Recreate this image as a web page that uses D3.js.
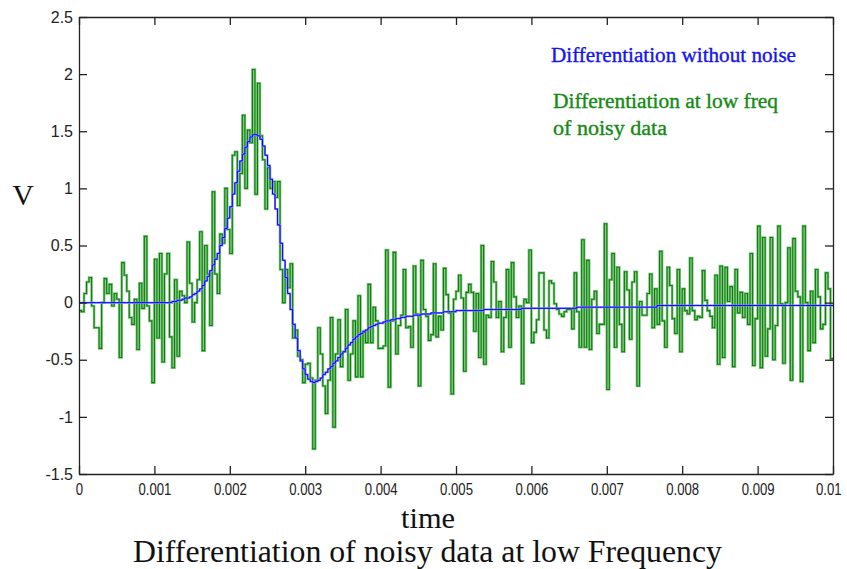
<!DOCTYPE html>
<html><head><meta charset="utf-8">
<script src="https://cdn.jsdelivr.net/npm/d3@7/dist/d3.min.js"></script>
<style>body{margin:0;background:#fff}svg{display:block}
.tick text{font-family:'Liberation Sans',Arial,sans-serif}
.xax .tick text{font-size:16px}
.yax .tick text{font-size:16px}
</style>
</head><body>
<svg id="chart" width="847" height="569"></svg>
<script>
// ---------- data ----------
const timeStart = 0;
const timeEnd = 0.01;
const xTickValues = [0,0.001,0.002,0.003,0.004,0.005,0.006,0.007,0.008,0.009,0.01];
const xTickLabels = ["0","0.001","0.002","0.003","0.004","0.005","0.006","0.007","0.008","0.009","0.01"];
const yTickValues = [-1.5,-1,-0.5,0,0.5,1,1.5,2,2.5];
const yTickLabels = ["-1.5","-1","-0.5","0","0.5","1","1.5","2","2.5"];

// differentiation at low freq of noisy data (one value per sample step)
const noisyDeriv = [
 -0.07,-0.08,0.08,0.18,0.22,-0.03,-0.22,-0.22,-0.4,0.0,
 0.21,0.08,0.16,-0.03,0.08,0.03,-0.48,0.35,0.24,0.1,
 -0.13,-0.19,0.03,-0.41,0.17,-0.05,0.58,-0.03,-0.16,-0.7,
 0.38,-0.31,0.43,-0.52,0.25,0.43,-0.3,-0.57,0.2,-0.47,
 0.1,0.06,0.0,0.53,0.17,-0.17,0.0,0.2,
 0.62,-0.42,0.5,0.25,-0.2,0.97,0.25,0.08,0.6,0.52,
 1.0,0.64,0.43,1.29,1.32,0.85,1.13,1.64,1.0,1.51,
 1.4,2.04,0.95,1.92,1.46,1.25,0.82,1.18,1.0,1.06,
 0.92,1.06,0.29,0.0,0.29,0.13,0.34,-0.31,-0.24,-0.47,
 -0.5,-0.7,-0.54,-0.53,-0.66,-1.28,-0.68,-0.22,-0.45,-0.73,
 -0.97,-0.68,
 -0.13,-1.09,-0.45,-0.15,-0.56,-0.43,-0.06,-0.68,-0.45,-0.16,
 -0.65,0.06,-0.65,-0.26,-0.35,0.16,-0.35,-0.04,-0.16,-0.4,
 -0.4,-0.38,0.46,-0.74,-0.16,0.44,-0.45,-0.2,-0.11,0.29,
 -0.22,-0.21,-0.39,0.32,-0.1,-0.73,0.37,-0.06,-0.12,-0.33,
 -0.28,0.34,-0.3,-0.12,-0.24,0.3,0.07,-0.09,-0.8,
 0.03,0.1,0.24,0.04,-0.6,0.09,0.16,0.09,-0.25,0.08,
 -0.48,0.5,-0.54,-0.11,-0.13,0.36,0.18,-0.13,0.01,-0.43,
 -0.13,0.29,-0.39,0.35,0.05,-0.13,-0.03,-0.71,0.03,0.0,
 0.46,-0.35,-0.26,-0.15,0.26,0.26,-0.24,-0.31,0.19,0.17,
 -0.01,-0.06,-0.1,-0.12,-0.08,-0.06,-0.06,-0.23,0.26,-0.08,
 -0.39,
 0.55,-0.39,0.37,-0.41,0.03,0.1,-0.27,-0.19,-0.19,0.69,
 -0.76,0.2,0.43,-0.39,0.31,-0.19,-0.43,0.27,0.11,-0.32,
 0.18,0.27,-0.73,0.01,-0.11,-0.11,0.08,0.25,-0.22,0.12,
 -0.19,0.45,-0.16,-0.39,0.31,0.15,-0.14,-0.27,0.29,-0.43,
 0.12,-0.07,-0.1,0.39,-0.07,-0.15,-0.12,-0.13,0.28,
 0.02,-0.07,-0.12,-0.22,0.24,-0.54,0.32,-0.48,0.31,0.01,
 0.14,-0.56,0.29,-0.09,0.09,-0.13,0.08,-0.19,0.43,-0.55,
 -0.14,0.67,-0.57,0.57,-0.47,-0.23,0.57,-0.5,-0.2,0.67,
 -0.01,-0.53,0.0,0.48,-0.68,0.56,0.1,0.05,-0.69,0.67,
 0.0,-0.42,0.1,-0.35,0.29,0.05,-0.23,-0.19,0.26,0.12,
 -0.49
];

// differentiation without noise (same sample steps)
const cleanDeriv = [
 0,0,0,0,0,0,0,0,0,0,
 0,0,0,0,0,0,0,0,0,0,
 0,0,0,0,0,0,0,0,0,0,
 0,0,0,0,0,0,0,
 0.01,0.01,0.02,0.02,0.03,0.04,0.04,0.05,0.07,0.08,
 0.1,0.12,0.15,0.19,0.23,0.28,0.33,0.38,0.43,0.5,
 0.57,0.65,0.74,0.84,0.95,1.05,1.15,1.24,1.3,1.36,
 1.41,1.45,1.47,1.47,1.46,1.43,1.37,1.29,1.2,1.08,
 0.95,0.82,0.68,0.52,0.37,0.22,0.08,-0.06,-0.19,-0.31,
 -0.42,-0.51,-0.58,-0.63,-0.67,-0.69,-0.7,-0.69,-0.68,-0.66,
 -0.63,-0.61,-0.58,-0.56,-0.53,-0.51,-0.48,-0.45,-0.43,-0.4,
 -0.37,-0.35,-0.32,-0.3,-0.28,-0.27,-0.25,-0.24,-0.22,-0.21,
 -0.2,-0.19,-0.18,-0.18,-0.17,-0.16,-0.16,-0.15,-0.15,-0.14,
 -0.14,-0.13,-0.13,-0.12,-0.12,-0.12,-0.11,-0.11,-0.11,-0.1,
 -0.1,-0.1,-0.1,-0.09,-0.09,-0.09,-0.09,-0.09,-0.08,-0.08,
 -0.08,-0.08,-0.08,
 -0.07,-0.07,-0.07,-0.07,-0.07,-0.07,-0.07,-0.07,-0.07,-0.07,-0.07,
 -0.06,-0.06,-0.06,-0.06,-0.06,-0.06,-0.06,-0.06,-0.06,-0.06,-0.06,-0.06,-0.06,-0.06,-0.06,
 -0.05,-0.05,-0.05,-0.05,-0.05,-0.05,-0.05,-0.05,-0.05,-0.05,-0.05,
 -0.05,-0.05,-0.05,-0.05,-0.05,-0.05,-0.05,-0.05,-0.05,-0.05,-0.05,
 -0.04,-0.04,-0.04,-0.04,-0.04,-0.04,-0.04,-0.04,-0.04,-0.04,
 -0.04,-0.04,-0.04,-0.04,-0.04,-0.04,-0.04,-0.04,-0.04,-0.04,
 -0.04,-0.04,-0.04,-0.04,-0.04,-0.04,-0.04,-0.04,-0.04,-0.04,-0.04,-0.04,
 -0.025,-0.025,-0.025,-0.025,-0.025,-0.025,-0.025,-0.025,-0.025,-0.025,
 -0.025,-0.025,-0.025,-0.025,-0.025,-0.025,-0.025,-0.025,-0.025,-0.025,
 -0.025,-0.025,-0.025,-0.025,-0.025,-0.025,-0.025,-0.025,-0.025,-0.025,
 -0.025,-0.025,-0.025,-0.025,-0.025,-0.025,-0.025,-0.025,-0.025,-0.025,
 -0.025,-0.025,-0.025,-0.025,-0.025,-0.025,-0.025,-0.025,-0.025,-0.025,
 -0.025,-0.025,-0.025,-0.025,-0.025,-0.025,-0.025,-0.025,-0.025,-0.025,
 -0.025,-0.025,-0.025,-0.025,-0.025,-0.025,-0.025,-0.025,-0.025,-0.025
];

const legendLabels = ["Differentiation without noise", "Differentiation at low freq", "of noisy data"];
const xTitle = "time";
const yTitle = "V";
const chartTitle = "Differentiation of noisy data at low Frequency";

// ---------- drawing ----------
const svg = d3.select("#chart");
const plotLeft = 79, plotRight = 833, plotTop = 17, plotBottom = 474;

const x = d3.scaleLinear().domain([timeStart, timeEnd]).range([plotLeft, plotRight]);
const y = d3.scaleLinear().domain([-1.5, 2.5]).range([plotBottom, plotTop]);

function stepPoints(vals) {
  const dt = (timeEnd - timeStart) / vals.length;
  const pts = vals.map((v, i) => [timeStart + i * dt, v]);
  pts.push([timeEnd, vals[vals.length - 1]]);
  return pts;
}
const line = d3.line().x(d => x(d[0])).y(d => y(d[1])).curve(d3.curveStepAfter);

const plot = svg.append("g");
const gPts = stepPoints(noisyDeriv);
const bPts = stepPoints(cleanDeriv);

plot.append("path").attr("d", line(gPts)).attr("fill", "none")
  .attr("stroke", "#86c886").attr("stroke-width", 2.6);
plot.append("path").attr("d", line(gPts)).attr("fill", "none")
  .attr("stroke", "#0a7f0a").attr("stroke-width", 1.1);
plot.append("path").attr("d", line(bPts)).attr("fill", "none")
  .attr("stroke", "#8a8aff").attr("stroke-width", 2.0);
plot.append("path").attr("d", line(bPts)).attr("fill", "none")
  .attr("stroke", "#0000ff").attr("stroke-width", 1.0);

// axes (box with inward ticks)
const axisColor = "#222";
function styleAxis(g) {
  g.selectAll("path,line").attr("stroke", axisColor).attr("stroke-width", 1.3);
  g.selectAll("text").attr("fill", "#222");
}
const xAxisG = svg.append("g").attr("class", "xax").attr("transform", `translate(0,${plotBottom})`)
  .call(d3.axisBottom(x).tickValues(xTickValues).tickFormat((d, i) => xTickLabels[i]).tickSize(-8).tickSizeOuter(0).tickPadding(10))
  .call(styleAxis);
// narrow the bottom tick labels as in the reference (the last one kept inside the picture)
const nX = xTickValues.length;
xAxisG.selectAll("text").each(function (d, i) {
  const w = this.getComputedTextLength();
  const t = d3.select(this).attr("textLength", w * 0.82).attr("lengthAdjust", "spacingAndGlyphs");
  if (i === nX - 1) t.attr("text-anchor", "end").attr("x", 841 - plotRight);
});
svg.append("g").attr("transform", `translate(0,${plotTop})`)
  .call(d3.axisTop(x).tickValues(xTickValues).tickFormat("").tickSize(-8).tickSizeOuter(0))
  .call(styleAxis);
svg.append("g").attr("class", "yax").attr("transform", `translate(${plotLeft},0)`)
  .call(d3.axisLeft(y).tickValues(yTickValues).tickFormat((d, i) => yTickLabels[i]).tickSize(-8).tickSizeOuter(0).tickPadding(6))
  .call(styleAxis);
svg.append("g").attr("transform", `translate(${plotRight},0)`)
  .call(d3.axisRight(y).tickValues(yTickValues).tickFormat("").tickSize(-8).tickSizeOuter(0))
  .call(styleAxis);

// legend-like annotations
const serif = "'Liberation Serif', 'Times New Roman', serif";
function note(txt, xPos, yPos, len, color) {
  svg.append("text").attr("x", xPos).attr("y", yPos).attr("fill", color)
    .attr("stroke", color).attr("stroke-width", 0.35)
    .style("font-family", serif).style("font-size", "20px")
    .attr("textLength", len).attr("lengthAdjust", "spacingAndGlyphs").text(txt);
}
note(legendLabels[0], 551, 62, 245, "#1414f0");
note(legendLabels[1], 553, 108, 225, "#138a13");
note(legendLabels[2], 553, 135, 114, "#138a13");

// titles
svg.append("text").attr("x", 23).attr("y", 205).attr("text-anchor", "middle")
  .style("font-family", serif).style("font-size", "30px").attr("fill", "#111").text(yTitle);
svg.append("text").attr("x", 428).attr("y", 528).attr("text-anchor", "middle")
  .style("font-family", serif).style("font-size", "30px").attr("fill", "#111")
  .attr("textLength", 54).attr("lengthAdjust", "spacingAndGlyphs").text(xTitle);
svg.append("text").attr("x", 133).attr("y", 562)
  .style("font-family", serif).style("font-size", "31px").attr("fill", "#111")
  .attr("textLength", 589).attr("lengthAdjust", "spacingAndGlyphs").text(chartTitle);
</script>
</body></html>
